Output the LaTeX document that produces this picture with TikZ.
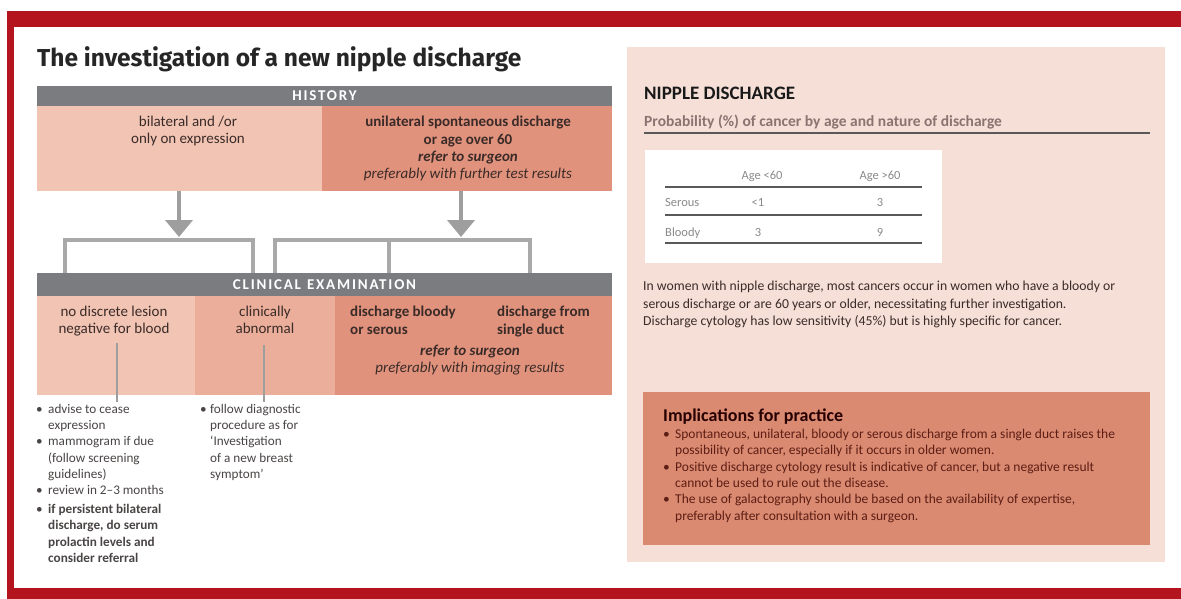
\documentclass[tikz,border=0pt]{standalone}
\usepackage{fontspec}
\setmainfont{Carlito}
\newfontfamily\firasans{Fira Sans}
\usetikzlibrary{arrows.meta}
\definecolor{framered}{HTML}{B3141E}
\definecolor{bargray}{HTML}{7B7C80}
\definecolor{pinkA}{HTML}{F1C4B4}
\definecolor{pinkB}{HTML}{EAAE9A}
\definecolor{pinkC}{HTML}{E0927C}
\definecolor{panelbg}{HTML}{F5DFD7}
\definecolor{implbg}{HTML}{DB8A72}
\definecolor{arrowgray}{HTML}{9E9E9E}
\definecolor{linegray}{HTML}{A9A9A9}
\definecolor{txtdark}{HTML}{3B2B28}
\definecolor{txtlist}{HTML}{4A4545}
\definecolor{txtimpl}{HTML}{5C1E14}
\definecolor{probgray}{HTML}{8B7370}
\definecolor{tabgray}{HTML}{8A8A8A}
\begin{document}
\begin{tikzpicture}[x=1pt,y=-1pt,
  cellbox/.style={inner sep=0pt, outer sep=0pt, anchor=north west},
  barbox/.style={cellbox, fill=bargray, text=white, font=\bfseries\fontsize{15}{17}\selectfont\addfontfeature{LetterSpace=12}},
  celltxt/.style={inner sep=0pt, align=center, anchor=north, text=txtdark, font=\fontsize{15}{17.3}\selectfont},
  listtxt/.style={inner sep=0pt, align=left, anchor=north west, text=txtlist, font=\fontsize{13.2}{16.3}\selectfont},
  bigarrow/.style={draw=arrowgray, line width=4pt, -{Triangle[width=27pt,length=17pt]}},
  bracket/.style={draw=linegray, line width=4pt},
  thinline/.style={draw=arrowgray, line width=2pt},
  tabline/.style={draw=black!65, line width=1.6pt},
  tabtxt/.style={inner sep=0pt, text=tabgray, font=\fontsize{12.5}{14}\selectfont}
]
\useasboundingbox (0,0) rectangle (1181,599);
\fill[white] (0,0) rectangle (1181,599);
% frame
\fill[framered] (7,11) rectangle (1181,27);
\fill[framered] (7,11) rectangle (14,599);
\fill[framered] (7,588) rectangle (1181,599);

% title
\node[anchor=base west, inner sep=0pt, text=black!85, font=\firasans\bfseries\fontsize{24.5}{28}\selectfont] (title) at (37,67) {The investigation of a new nipple discharge};

% history
\node[barbox, minimum width=575pt, minimum height=20pt] (history) at (37,86) {HISTORY};
\node[cellbox, fill=pinkA, minimum width=285pt, minimum height=85pt] (hleft) at (37,106) {};
\node[cellbox, fill=pinkC, minimum width=290pt, minimum height=85pt] (hright) at (322,106) {};
\node[celltxt] (hlefttxt) at (188,116) {bilateral and /or\\only on expression};
\node[celltxt] (hrighttxt) at (468,116) {\textbf{unilateral spontaneous discharge}\\\textbf{or age over 60}\\\textbf{\textit{refer to surgeon}}\\\textit{preferably with further test results}};

% arrows
\coordinate (a1s) at (179,191);
\coordinate (a1e) at (179,237);
\coordinate (a2s) at (461,191);
\coordinate (a2e) at (461,237);
\draw[bigarrow] (a1s) -- (a1e);
\draw[bigarrow] (a2s) -- (a2e);

% clinical examination bar
\node[barbox, minimum width=575pt, minimum height=23pt] (clinical) at (37,273) {CLINICAL\hspace{6pt}EXAMINATION};

% brackets
\coordinate (b1) at (65,273);
\coordinate (b2) at (253,273);
\coordinate (b3) at (275,273);
\coordinate (b4) at (389,273);
\coordinate (b5) at (530,273);
\coordinate (bl) at (65,240);
\coordinate (br) at (530,240);
\draw[bracket] (b1) |- (b2 |- bl) -- (b2);
\draw[bracket] (b3) |- (br) -- (b5);
\draw[bracket] (b4 |- bl) -- (b4);

% clinical row
\node[cellbox, fill=pinkA, minimum width=158pt, minimum height=99pt] (c1) at (37,296) {};
\node[cellbox, fill=pinkB, minimum width=140pt, minimum height=99pt] (c2) at (195,296) {};
\node[cellbox, fill=pinkC, minimum width=277pt, minimum height=99pt] (c3) at (335,296) {};
\node[celltxt] (c1txt) at (114,306) {no discrete lesion\\negative for blood};
\node[celltxt] (c2txt) at (265,306) {clinically\\abnormal};
\node[celltxt, anchor=north west, align=left] (c3atxt) at (350,306) {\textbf{discharge bloody}\\\textbf{or serous}};
\node[celltxt, anchor=north west, align=left] (c3btxt) at (497,306) {\textbf{discharge from}\\\textbf{single duct}};
\node[celltxt] (c3ctxt) at (470,345) {\textbf{\textit{refer to surgeon}}\\\textit{preferably with imaging results}};

% thin lines
\coordinate (l1s) at (117,343);
\coordinate (l1e) at (117,402);
\coordinate (l2s) at (264,345);
\coordinate (l2e) at (264,402);
\draw[thinline] (l1s) -- (l1e);
\draw[thinline] (l2s) -- (l2e);

% lists
\node[listtxt] (list1) at (36,404) {%
\makebox[12pt][l]{\textbullet}advise to cease\\
\hspace*{12pt}expression\\
\makebox[12pt][l]{\textbullet}mammogram if due\\
\hspace*{12pt}(follow screening\\
\hspace*{12pt}guidelines)\\
\makebox[12pt][l]{\textbullet}review in 2--3 months\\[2.5pt]
\makebox[12pt][l]{\textbullet}\textbf{if persistent bilateral}\\
\hspace*{12pt}\textbf{discharge, do serum}\\
\hspace*{12pt}\textbf{prolactin levels and}\\
\hspace*{12pt}\textbf{consider referral}};
\node[listtxt] (list2) at (200,404) {%
\makebox[10pt][l]{\textbullet}follow diagnostic\\
\hspace*{10pt}procedure as for\\
\hspace*{10pt}`Investigation\\
\hspace*{10pt}of a new breast\\
\hspace*{10pt}symptom'};

% right panel
\node[cellbox, fill=panelbg, minimum width=538pt, minimum height=515pt] (panel) at (627,47) {};
\node[anchor=base west, inner sep=0pt, text=black!90, font=\bfseries\fontsize{19}{22}\selectfont] (nd) at (644,100) {NIPPLE DISCHARGE};
\node[anchor=base west, inner sep=0pt, text=probgray, font=\bfseries\fontsize{15.5}{17}\selectfont] (prob) at (644,127) {Probability (\%) of cancer by age and nature of discharge};
\coordinate (ul1) at (644,133);
\coordinate (ul2) at (1150,133);
\draw[draw=black!65, line width=1.4pt] (ul1) -- (ul2);

% table
\node[cellbox, fill=white, minimum width=297pt, minimum height=113pt] (tab) at (645,150) {};
\node[tabtxt, anchor=base] (th1) at (762,179) {Age <60};
\node[tabtxt, anchor=base] (th2) at (880,179) {Age >60};
\node[tabtxt, anchor=base west] (r1) at (665,207) {Serous};
\node[tabtxt, anchor=base] (r1a) at (758,207) {<1};
\node[tabtxt, anchor=base] (r1b) at (880,207) {3};
\node[tabtxt, anchor=base west] (r2) at (665,236) {Bloody};
\node[tabtxt, anchor=base] (r2a) at (758,236) {3};
\node[tabtxt, anchor=base] (r2b) at (880,236) {9};
\coordinate (t1a) at (665,187); \coordinate (t1b) at (922,187);
\coordinate (t2a) at (665,215); \coordinate (t2b) at (922,215);
\coordinate (t3a) at (665,243); \coordinate (t3b) at (922,243);
\draw[tabline] (t1a) -- (t1b);
\draw[tabline] (t2a) -- (t2b);
\draw[tabline] (t3a) -- (t3b);

% paragraph
\node[inner sep=0pt, anchor=north west, align=left, text=txtdark, font=\fontsize{13.7}{17.5}\selectfont] (para) at (643,281) {In women with nipple discharge, most cancers occur in women who have a bloody or\\serous discharge or are 60 years or older, necessitating further investigation.\\Discharge cytology has low sensitivity (45\%) but is highly specific for cancer.};

% implications
\node[cellbox, fill=implbg, minimum width=507pt, minimum height=153pt] (impl) at (643,392) {};
\node[anchor=base west, inner sep=0pt, text=black!85!red, font=\bfseries\fontsize{18}{20}\selectfont] (impltitle) at (663,421) {Implications for practice};
\node[inner sep=0pt, anchor=north west, align=left, text=txtimpl, font=\fontsize{13.5}{16.3}\selectfont] (impllist) at (663,429) {%
\makebox[12pt][l]{\textbullet}Spontaneous, unilateral, bloody or serous discharge from a single duct raises the\\
\hspace*{12pt}possibility of cancer, especially if it occurs in older women.\\
\makebox[12pt][l]{\textbullet}Positive discharge cytology result is indicative of cancer, but a negative result\\
\hspace*{12pt}cannot be used to rule out the disease.\\
\makebox[12pt][l]{\textbullet}The use of galactography should be based on the availability of expertise,\\
\hspace*{12pt}preferably after consultation with a surgeon.};
\end{tikzpicture}
\end{document}
